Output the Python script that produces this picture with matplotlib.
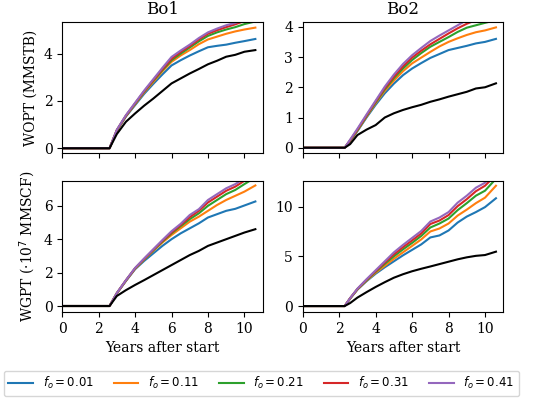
"""Cumulative oil and gas production for Bo1 and Bo2 under different f_o."""
import matplotlib
matplotlib.use("Agg")
import matplotlib.pyplot as plt

plt.rcParams["font.family"] = "DejaVu Serif"
plt.rcParams["font.size"] = 10

# years after start
years_bo1 = [0, 2.6, 3.0, 3.5, 4.0, 4.5, 5.0, 5.5, 6.0, 6.5, 7.0, 7.5, 8.0, 8.5, 9.0, 9.5, 10.0, 10.6]
years_bo2 = [0, 2.3, 2.6, 3.0, 3.5, 4.0, 4.5, 5.0, 5.5, 6.0, 6.5, 7.0, 7.5, 8.0, 8.5, 9.0, 9.5, 10.0, 10.6]

fo_labels = ["0.01", "0.11", "0.21", "0.31", "0.41"]
colors = ["tab:blue", "tab:orange", "tab:green", "tab:red", "tab:purple"]

# WOPT (MMSTB), Bo1
wopt_bo1_ref = [0, 0, 0.6, 1.12, 1.47, 1.8, 2.1, 2.42, 2.74, 2.95, 3.16, 3.35, 3.55, 3.7, 3.87, 3.95, 4.08, 4.15]
wopt_bo1 = [
    [0, 0, 0.74, 1.34, 1.82, 2.3, 2.72, 3.12, 3.5, 3.72, 3.92, 4.1, 4.27, 4.33, 4.38, 4.46, 4.53, 4.62],
    [0, 0, 0.75, 1.36, 1.86, 2.36, 2.8, 3.25, 3.65, 3.92, 4.15, 4.4, 4.6, 4.72, 4.84, 4.94, 5.02, 5.1],
    [0, 0, 0.76, 1.37, 1.88, 2.39, 2.85, 3.3, 3.72, 4.0, 4.26, 4.52, 4.75, 4.9, 5.02, 5.12, 5.25, 5.36],
    [0, 0, 0.77, 1.38, 1.9, 2.41, 2.88, 3.34, 3.78, 4.07, 4.32, 4.6, 4.84, 4.99, 5.12, 5.24, 5.38, 5.5],
    [0, 0, 0.78, 1.4, 1.92, 2.44, 2.92, 3.4, 3.86, 4.13, 4.38, 4.66, 4.9, 5.06, 5.2, 5.3, 5.44, 5.58],
]

# WOPT (MMSTB), Bo2
wopt_bo2_ref = [0, 0, 0.12, 0.42, 0.6, 0.75, 1.0, 1.14, 1.25, 1.34, 1.42, 1.52, 1.6, 1.69, 1.77, 1.85, 1.96, 2.0, 2.13]
wopt_bo2 = [
    [0, 0, 0.22, 0.55, 1.0, 1.42, 1.8, 2.12, 2.4, 2.62, 2.8, 2.97, 3.1, 3.23, 3.3, 3.37, 3.45, 3.5, 3.6],
    [0, 0, 0.23, 0.57, 1.03, 1.47, 1.88, 2.22, 2.53, 2.79, 2.98, 3.17, 3.35, 3.5, 3.62, 3.73, 3.82, 3.88, 3.98],
    [0, 0, 0.24, 0.58, 1.05, 1.5, 1.93, 2.3, 2.62, 2.9, 3.13, 3.34, 3.5, 3.66, 3.83, 3.97, 4.05, 4.13, 4.22],
    [0, 0, 0.25, 0.6, 1.07, 1.53, 1.97, 2.35, 2.69, 2.98, 3.21, 3.42, 3.6, 3.78, 3.95, 4.1, 4.22, 4.32, 4.42],
    [0, 0, 0.27, 0.63, 1.1, 1.56, 2.02, 2.42, 2.77, 3.06, 3.3, 3.53, 3.71, 3.88, 4.05, 4.22, 4.35, 4.45, 4.55],
]

# WGPT (1e7 MMSCF), Bo1
wgpt_bo1_ref = [0, 0, 0.6, 0.95, 1.26, 1.55, 1.85, 2.15, 2.45, 2.75, 3.05, 3.3, 3.6, 3.8, 4.0, 4.2, 4.4, 4.6]
wgpt_bo1 = [
    [0, 0, 0.75, 1.5, 2.2, 2.7, 3.15, 3.6, 4.0, 4.35, 4.65, 4.95, 5.3, 5.5, 5.7, 5.82, 6.02, 6.26],
    [0, 0, 0.76, 1.52, 2.23, 2.78, 3.3, 3.8, 4.25, 4.65, 5.05, 5.35, 5.7, 6.05, 6.35, 6.6, 6.85, 7.22],
    [0, 0, 0.77, 1.53, 2.25, 2.8, 3.34, 3.86, 4.35, 4.78, 5.2, 5.55, 6.0, 6.35, 6.7, 6.95, 7.3, 7.7],
    [0, 0, 0.77, 1.54, 2.26, 2.82, 3.37, 3.9, 4.4, 4.85, 5.32, 5.7, 6.2, 6.55, 6.9, 7.15, 7.5, 7.9],
    [0, 0, 0.78, 1.55, 2.28, 2.85, 3.4, 3.95, 4.48, 4.92, 5.45, 5.8, 6.35, 6.7, 7.05, 7.3, 7.65, 8.05],
]

# WGPT (1e7 MMSCF), Bo2
wgpt_bo2_ref = [0, 0, 0.3, 0.85, 1.4, 1.92, 2.4, 2.85, 3.2, 3.5, 3.75, 3.98, 4.22, 4.46, 4.7, 4.9, 5.05, 5.13, 5.47]
wgpt_bo2 = [
    [0, 0, 0.75, 1.65, 2.5, 3.25, 3.9, 4.5, 5.1, 5.65, 6.2, 6.9, 7.1, 7.6, 8.4, 9.0, 9.45, 9.95, 10.84],
    [0, 0, 0.77, 1.68, 2.55, 3.35, 4.05, 4.75, 5.4, 6.05, 6.7, 7.5, 7.8, 8.3, 9.1, 9.7, 10.35, 10.9, 12.1],
    [0, 0, 0.78, 1.7, 2.6, 3.45, 4.25, 5.0, 5.7, 6.35, 7.05, 7.9, 8.3, 8.8, 9.65, 10.35, 11.1, 11.6, 12.8],
    [0, 0, 0.79, 1.72, 2.65, 3.52, 4.38, 5.2, 5.92, 6.6, 7.3, 8.25, 8.6, 9.15, 10.05, 10.75, 11.55, 12.1, 13.2],
    [0, 0, 0.8, 1.75, 2.7, 3.6, 4.5, 5.4, 6.15, 6.85, 7.55, 8.5, 8.9, 9.45, 10.4, 11.1, 11.9, 12.4, 13.5],
]


def draw(ax, years, runs, ref, ylim, yticks):
    for values, color, label in zip(runs, colors, fo_labels):
        ax.plot(years, values, color=color, lw=1.5, label=r"$f_o = %s$" % label)
    ax.plot(years, ref, color="black", lw=1.5)
    ax.set_xlim(0, 11)
    ax.set_ylim(*ylim)
    ax.set_xticks([0, 2, 4, 6, 8, 10])
    ax.set_yticks(yticks)


fig, axes = plt.subplots(2, 2, figsize=(5.5, 3.99), dpi=100)
fig.subplots_adjust(left=0.113, right=0.915, top=0.945, bottom=0.218,
                    hspace=0.21, wspace=0.2)

draw(axes[0, 0], years_bo1, wopt_bo1, wopt_bo1_ref, (-0.21, 5.34), [0, 2, 4])
draw(axes[0, 1], years_bo2, wopt_bo2, wopt_bo2_ref, (-0.18, 4.16), [0, 1, 2, 3, 4])
draw(axes[1, 0], years_bo1, wgpt_bo1, wgpt_bo1_ref, (-0.36, 7.5), [0, 2, 4, 6])
draw(axes[1, 1], years_bo2, wgpt_bo2, wgpt_bo2_ref, (-0.6, 12.6), [0, 5, 10])

for ax in axes[0]:
    ax.set_xticklabels([])
axes[0, 0].set_title("Bo1", fontsize=12)
axes[0, 1].set_title("Bo2", fontsize=12)
axes[0, 0].set_ylabel("WOPT (MMSTB)")
axes[1, 0].set_ylabel("WGPT (·10$^7$ MMSCF)")
for ax in axes[1]:
    ax.set_xlabel("Years after start")

handles, labels = axes[0, 0].get_legend_handles_labels()
fig.legend(handles, labels, loc="center", ncol=5, bbox_to_anchor=(0.475, 0.039),
           fontsize=8.5, columnspacing=1.7, handlelength=2.1)

fig.savefig("out.png", dpi=100, facecolor="white")
